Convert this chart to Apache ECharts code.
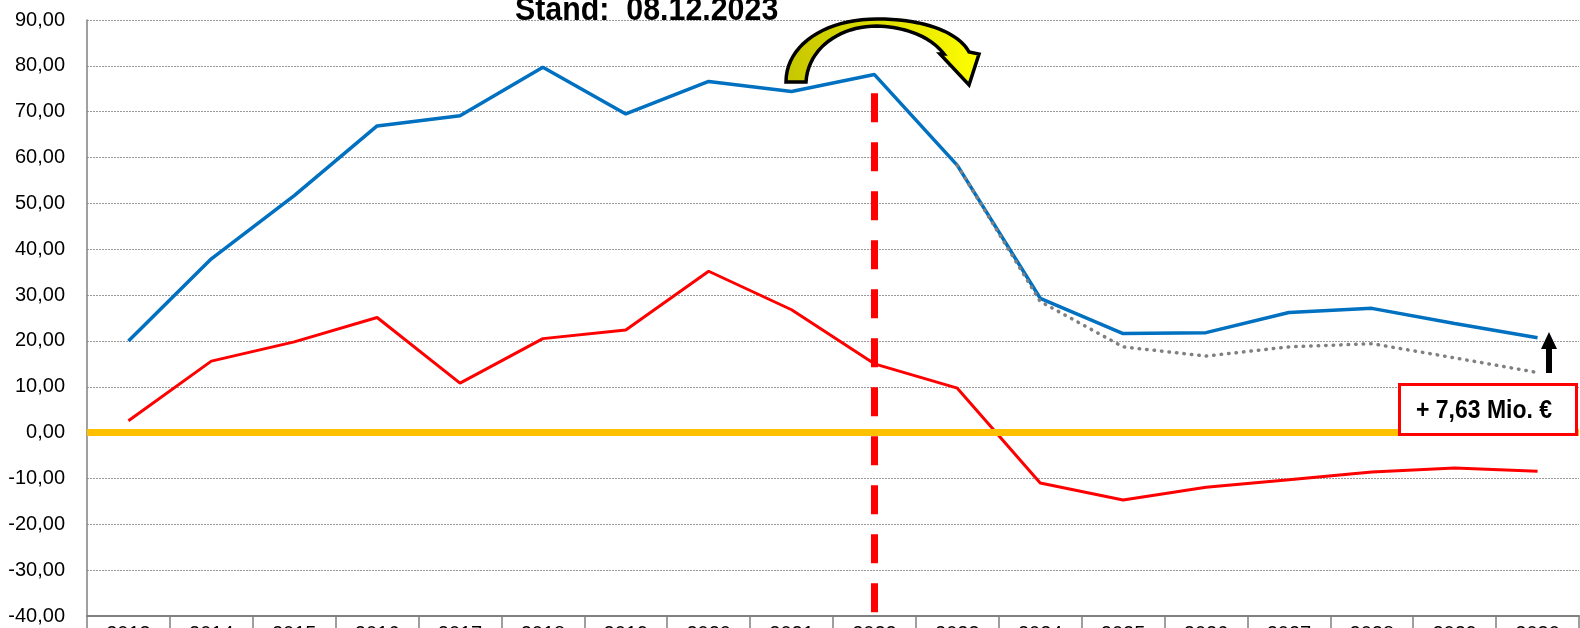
<!DOCTYPE html>
<html>
<head>
<meta charset="utf-8">
<script src="https://cdn.jsdelivr.net/npm/echarts@6/dist/echarts.min.js"></script>
<style>
  html, body { margin: 0; padding: 0; background: #fff; }
  #chart { width: 1580px; height: 628px; }
</style>
</head>
<body>
<div id="chart"></div>
<script>
// Jahre
var years = ['2013', '2014', '2015', '2016', '2017', '2018', '2019', '2020', '2021',
  '2022', '2023', '2024', '2025', '2026', '2027', '2028', '2029', '2030'];

// blaue Linie
var blueValues = [20.0, 37.9, 51.7, 66.9, 69.1, 79.7, 69.5, 76.6, 74.4,
  78.1, 58.3, 29.3, 21.6, 21.8, 26.2, 27.1, 23.8, 20.7];

// rote Linie
var redValues = [2.6, 15.6, 19.8, 25.1, 10.8, 20.5, 22.4, 35.2, 26.8,
  15.0, 9.7, -11.0, -14.7, -11.9, -10.3, -8.6, -7.7, -8.4];

// graue gepunktete Linie (alte Planung ab 2023)
var greyValues = [null, null, null, null, null, null, null, null, null,
  null, 58.3, 28.6, 18.7, 16.7, 18.7, 19.4, 16.3, 13.1];

// Markierung Stichtag
var markYear = '2022';
var markTop = 74;

var yMin = -40, yMax = 90, yStep = 10;

var titleText = 'Stand:  08.12.2023';
var boxText = '+ 7,63 Mio. €';

// Punkte einer kubischen Bezierkurve
function bez(p0, p1, p2, p3, n) {
  var pts = [];
  for (var i = 1; i <= n; i++) {
    var t = i / n, u = 1 - t;
    pts.push([
      u * u * u * p0[0] + 3 * u * u * t * p1[0] + 3 * u * t * t * p2[0] + t * t * t * p3[0],
      u * u * u * p0[1] + 3 * u * u * t * p1[1] + 3 * u * t * t * p2[1] + t * t * t * p3[1]
    ]);
  }
  return pts;
}

// gebogener Pfeil
var arrowPts = [[786, 82]]
  .concat(bez([786, 82], [786, 45], [825, 19], [877, 19], 20))
  .concat(bez([877, 19], [930, 19], [960, 35], [969, 52], 20))
  .concat([[979, 54], [969, 85], [940, 54], [944, 54]])
  .concat(bez([944, 54], [930, 36], [905, 27], [877, 26], 20))
  .concat(bez([877, 26], [840, 26], [808, 48], [806, 82], 20));

var myChart = echarts.init(document.getElementById('chart'));

var option = {
  animation: false,
  backgroundColor: '#fff',
  grid: { left: 87, right: 1, top: 20, bottom: 12, containLabel: false, outerBoundsMode: 'none' },
  xAxis: {
    type: 'category',
    data: years,
    boundaryGap: true,
    axisLine: { onZero: false, lineStyle: { color: '#808080', width: 2 } },
    axisTick: { show: true, interval: 0, length: 14, lineStyle: { color: '#808080', width: 1.5 } },
    axisLabel: {
      interval: 0, margin: 8, color: '#000',
      fontFamily: 'Liberation Sans', fontSize: 20
    },
    splitLine: { show: false }
  },
  yAxis: {
    type: 'value',
    min: yMin, max: yMax, interval: yStep,
    axisLine: { show: true, lineStyle: { color: '#808080', width: 1.5 } },
    axisTick: { show: false },
    axisLabel: {
      margin: 22, color: '#000',
      fontFamily: 'Liberation Sans', fontSize: 20,
      formatter: function (v) { return v.toFixed(2).replace('.', ','); }
    },
    splitLine: { show: true, lineStyle: { color: '#9a9a9a', width: 1, type: [2, 1] } }
  },
  series: [
    {
      name: 'null',
      type: 'line',
      data: [],
      markLine: {
        silent: true,
        symbol: 'none',
        label: { show: false },
        data: [{ yAxis: 0 }],
        lineStyle: { color: '#ffc000', width: 7, type: 'solid' }
      },
      z: 2
    },
    {
      name: 'blau',
      type: 'line',
      data: blueValues,
      symbol: 'none',
      lineStyle: { color: '#0070c0', width: 3.5 },
      z: 3
    },
    {
      name: 'rot',
      type: 'line',
      data: redValues,
      symbol: 'none',
      lineStyle: { color: '#ff0000', width: 3 },
      z: 3,
      markLine: {
        silent: true,
        symbol: 'none',
        label: { show: false },
        data: [
          [{ coord: [markYear, markTop] }, { coord: [markYear, yMin] }]
        ],
        lineStyle: { color: '#ff0000', width: 7, type: [29, 20], cap: 'butt' }
      }
    },
    {
      name: 'grau',
      type: 'line',
      data: greyValues,
      symbol: 'none',
      connectNulls: false,
      lineStyle: { color: '#808080', width: 3.5, type: [0.5, 7], cap: 'round' },
      z: 4
    }
  ],
  graphic: [
    {
      type: 'text',
      x: 515, y: 11,
      scaleX: 0.92,
      z: 10,
      style: {
        text: titleText,
        font: 'bold 33px "Liberation Sans", Arial, sans-serif',
        fill: '#000',
        align: 'left',
        verticalAlign: 'middle'
      }
    },
    {
      type: 'polygon',
      z: 10,
      shape: { points: arrowPts },
      style: {
        fill: {
          type: 'linear', x: 0, y: 0, x2: 1, y2: 0,
          colorStops: [
            { offset: 0, color: '#c6c600' },
            { offset: 0.5, color: '#dede00' },
            { offset: 1, color: '#ffff00' }
          ]
        },
        stroke: '#000',
        lineWidth: 3.5,
        lineJoin: 'miter'
      }
    },
    {
      type: 'polygon',
      z: 10,
      shape: {
        points: [[1549, 332], [1557, 349], [1552, 349], [1552, 373],
          [1546, 373], [1546, 349], [1541, 349]]
      },
      style: { fill: '#000' }
    },
    {
      type: 'rect',
      z: 10,
      shape: { x: 1399.5, y: 384.5, width: 177, height: 50 },
      style: { fill: '#fff', stroke: '#ff0000', lineWidth: 3 }
    },
    {
      type: 'text',
      x: 1484, y: 411,
      scaleX: 0.92,
      z: 11,
      style: {
        text: boxText,
        font: 'bold 25px "Liberation Sans", Arial, sans-serif',
        fill: '#000',
        align: 'center',
        verticalAlign: 'middle'
      }
    }
  ]
};

myChart.setOption(option);
</script>
</body>
</html>
